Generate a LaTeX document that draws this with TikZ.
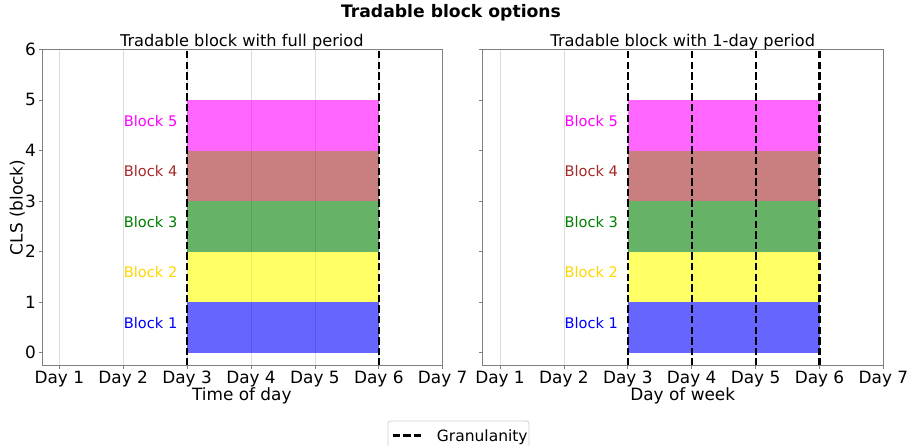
\documentclass[tikz,border=0pt]{standalone}
\usepackage{fontspec}
\setmainfont{DejaVu Sans}
\definecolor{spinegray}{HTML}{808080}
\definecolor{gridgray}{HTML}{DCDCDC}
\definecolor{legendgray}{HTML}{D0D0D0}
\definecolor{cmagenta}{HTML}{FF00FF}
\definecolor{cbrown}{HTML}{A52A2A}
\definecolor{cgreen}{HTML}{008000}
\definecolor{cyellow}{HTML}{FFFF00}
\definecolor{cgold}{HTML}{FFD700}
\definecolor{cblue}{HTML}{0000FF}
\tikzset{
  spine/.style={draw=spinegray, line width=0.9pt},
  tickmark/.style={draw=spinegray, line width=0.8pt},
  gridline/.style={draw=gridgray, line width=0.8pt},
  gran/.style={draw=black, line width=2.2pt, dash pattern=on 7.4pt off 3.2pt},
  blockfill/.style={fill opacity=0.6},
  ticklabel/.style={font=\fontsize{16.9}{19}\selectfont, inner sep=0pt},
  blocklabel/.style={font=\fontsize{14.6}{17}\selectfont, inner sep=0pt, anchor=base east},
  subtitle/.style={font=\fontsize{16.2}{19}\selectfont, inner sep=0pt, anchor=base},
  panel/.style={x=63.9pt, y=50.55pt}
}
\begin{document}
\begin{tikzpicture}[x=1pt, y=-1pt]
\useasboundingbox[fill=white] (0,0) rectangle (908,445);

% figure title
\node[font=\fontsize{17.2}{20}\selectfont\bfseries, inner sep=0pt, anchor=base] (title) at (451,17) {Tradable block options};

% ---------------- left panel: full period ----------------
\begin{scope}[shift={(59.3,352.7)}, panel]
  \foreach \d in {0,...,6} \draw[gridline] (\d,-0.26) -- (\d,6);
  \fill[blockfill, cblue]    (2,0) rectangle (5,1);
  \fill[blockfill, cyellow]  (2,1) rectangle (5,2);
  \fill[blockfill, cgreen]   (2,2) rectangle (5,3);
  \fill[blockfill, cbrown]   (2,3) rectangle (5,4);
  \fill[blockfill, cmagenta] (2,4) rectangle (5,5);
  \node[blocklabel, text=cblue]    (la1) at (1.85,0.48) {Block 1};
  \node[blocklabel, text=cgold]    (la2) at (1.85,1.48) {Block 2};
  \node[blocklabel, text=cgreen]   (la3) at (1.85,2.48) {Block 3};
  \node[blocklabel, text=cbrown]   (la4) at (1.85,3.48) {Block 4};
  \node[blocklabel, text=cmagenta] (la5) at (1.85,4.48) {Block 5};
  \foreach \d in {2,5} \draw[gran] (\d,-0.26) -- (\d,6);
  \draw[spine] (-0.27,-0.26) rectangle (6,6);
  \foreach \d in {0,...,6} {
    \draw[tickmark] (\d,-0.26) -- ++(0pt,-3.5pt);
    \pgfmathtruncatemacro\dn{\d+1}
    \node[ticklabel, anchor=base] (lx\d) at (\d,-0.605) {Day \dn};
  }
  \foreach \v in {0,...,6} {
    \draw[tickmark] (-0.27,\v) -- ++(-3.5pt,0pt);
    \node[ticklabel, anchor=east] (ly\v) at (-0.365,\v) {\v};
  }
  \node[subtitle] (lt) at (2.856,6.05) {Tradable block with full period};
  \node[ticklabel, anchor=base] (lxl) at (2.856,-0.94) {Time of day};
\end{scope}

% y axis label
\node[ticklabel, anchor=base, rotate=90] (ylab) at (22.5,207.5) {CLS (block)};

% ---------------- right panel: 1-day period ----------------
\begin{scope}[shift={(500,352.7)}, panel]
  \foreach \d in {0,1,6} \draw[gridline] (\d,-0.26) -- (\d,6);
  \fill[blockfill, cblue]    (2,0) rectangle (5,1);
  \fill[blockfill, cyellow]  (2,1) rectangle (5,2);
  \fill[blockfill, cgreen]   (2,2) rectangle (5,3);
  \fill[blockfill, cbrown]   (2,3) rectangle (5,4);
  \fill[blockfill, cmagenta] (2,4) rectangle (5,5);
  \node[blocklabel, text=cblue]    (rb1) at (1.85,0.48) {Block 1};
  \node[blocklabel, text=cgold]    (rb2) at (1.85,1.48) {Block 2};
  \node[blocklabel, text=cgreen]   (rb3) at (1.85,2.48) {Block 3};
  \node[blocklabel, text=cbrown]   (rb4) at (1.85,3.48) {Block 4};
  \node[blocklabel, text=cmagenta] (rb5) at (1.85,4.48) {Block 5};
  \foreach \d in {2,3,4,5} \draw[gran] (\d,-0.26) -- (\d,6);
  \draw[spine] (-0.277,-0.26) rectangle (6,6);
  \foreach \d in {0,...,6} {
    \draw[tickmark] (\d,-0.26) -- ++(0pt,-3.5pt);
    \pgfmathtruncatemacro\dn{\d+1}
    \node[ticklabel, anchor=base] (rx\d) at (\d,-0.605) {Day \dn};
  }
  \foreach \v in {0,...,6} \draw[tickmark] (-0.277,\v) -- ++(-3.5pt,0pt);
  \node[subtitle] (rt) at (2.86,6.05) {Tradable block with 1-day period};
  \node[ticklabel, anchor=base] (rxl) at (2.86,-0.94) {Day of week};
\end{scope}

% legend
\draw[draw=legendgray, fill=white, rounded corners=2.5pt, line width=0.8pt] (388,421) rectangle (529,460);
\coordinate (lg1) at (392.7,435.5);
\coordinate (lg2) at (423.3,435.5);
\draw[gran] (lg1) -- (lg2);
\node[font=\fontsize{15.5}{18}\selectfont, inner sep=0pt, anchor=base west] (lgt) at (436.7,441) {Granulanity};
\end{tikzpicture}
\end{document}
